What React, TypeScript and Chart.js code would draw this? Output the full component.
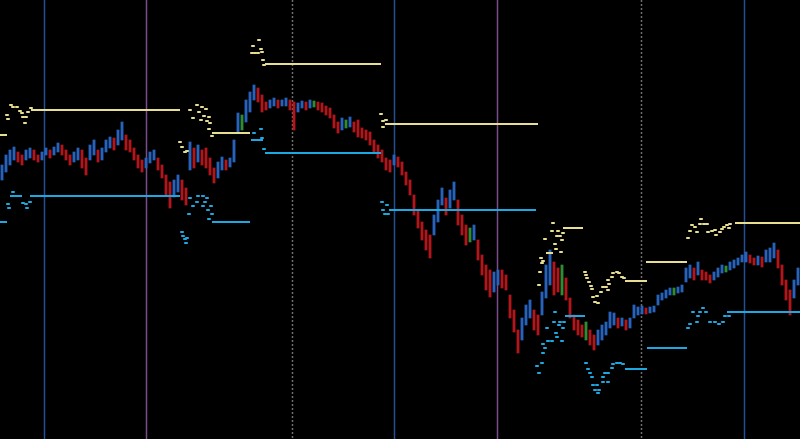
import { useEffect, useRef } from 'react';
import { Chart, registerables } from 'chart.js';

Chart.register(...registerables);

// Bar highs / lows (price levels), one bar per slot
const highs = [
  274, 284, 289, 292, 287, 284, 289, 291, 289, 284, 287, 291, 289, 292, 296, 294, 289, 284, 287, 291,
  289, 281, 294, 299, 289, 291, 299, 302, 301, 309, 317, 304, 299, 291, 284, 279, 281, 287, 289, 281,
  274, 264, 257, 259, 264, 259, 251, 297, 291, 294, 289, 291, 281, 271, 277, 282, 279, 281, 299, 326,
  324, 339, 347, 354, 351, 344, 337, 339, 341, 339, 339, 341, 339, 337, 336, 338, 337, 339, 338, 337,
  336, 333, 331, 324, 317, 321, 319, 322, 317, 319, 311, 309, 307, 299, 294, 289, 281, 279, 284, 282,
  277, 267, 259, 244, 229, 217, 209, 204, 224, 239, 251, 241, 249, 257, 239, 224, 214, 211, 214, 199,
  184, 174, 169, 167, 169, 169, 164, 144, 129, 109, 121, 134, 139, 129, 124, 147, 174, 189, 177, 171,
  174, 161, 141, 124, 119, 114, 117, 109, 104, 109, 114, 117, 127, 126, 121, 121, 119, 121, 134, 132,
  133, 131, 132, 133, 144, 146, 149, 151, 151, 152, 154, 171, 174, 171, 177, 169, 167, 164, 167, 171,
  174, 173, 177, 179, 181, 184, 187, 184, 181, 183, 182, 189, 191, 196, 189, 174, 159, 149, 159, 171,
];
const lows = [
  259, 267, 274, 279, 277, 274, 279, 281, 279, 277, 279, 284, 281, 284, 287, 284, 279, 274, 277, 279,
  271, 264, 279, 284, 277, 279, 287, 291, 289, 294, 299, 289, 287, 279, 271, 267, 271, 276, 279, 269,
  261, 244, 231, 242, 247, 239, 234, 269, 271, 277, 274, 271, 264, 256, 261, 269, 269, 272, 277, 307,
  309, 317, 327, 339, 337, 327, 329, 331, 333, 331, 333, 333, 329, 309, 327, 331, 329, 331, 332, 329,
  327, 324, 321, 311, 306, 309, 311, 312, 307, 302, 301, 299, 294, 287, 281, 277, 269, 267, 274, 272,
  264, 254, 244, 224, 211, 199, 189, 181, 204, 217, 234, 224, 231, 239, 214, 204, 194, 197, 199, 179,
  164, 149, 142, 147, 154, 151, 149, 121, 107, 86, 99, 114, 121, 109, 104, 124, 141, 154, 144, 147,
  144, 139, 121, 109, 104, 102, 99, 94, 89, 94, 99, 104, 111, 114, 111, 113, 109, 111, 121, 124,
  125, 125, 126, 127, 134, 139, 141, 144, 144, 146, 147, 157, 161, 159, 164, 159, 159, 156, 159, 162,
  166, 167, 169, 171, 174, 177, 177, 176, 174, 174, 172, 177, 177, 181, 171, 154, 139, 124, 141, 154,
];

// Session separators (slot positions)
const weekBreaks = [11, 98.5, 186];
const dayBreaks = [36.6, 124.25];
const midBreaks = [72.9, 160.25];

// Upper / lower reference levels: level, start slot, end slot
const upperLevels = [304, 329, 306, 375, 315, 186, 211, 158, 177, 216];
const upperStart = [0, 7.75, 53, 66.25, 96.25, 136.5, 140.75, 156.25, 161.5, 183.75];
const upperEnd = [1.75, 45, 62.5, 95.25, 134.5, 138.25, 145.75, 161.75, 171.75, 200];

const lowerLevels = [217, 243, 243, 217, 299, 286, 229, 123, 70, 91, 127];
const lowerStart = [0, 2.5, 7.5, 53, 62.75, 66.25, 97.25, 141.25, 156.25, 161.75, 181.75];
const lowerEnd = [1.75, 5.5, 45, 62.5, 65.75, 95.25, 134, 146.25, 161.75, 171.75, 200];

// Pivot markers [slot, level]
const upperPivots: [number, number][] = [
  [1.75, 324], [2, 320], [2.75, 334], [3.25, 332], [4.25, 332], [5, 328], [5.5, 326], [5.75, 322],
  [6.5, 322], [6.25, 316], [7, 327], [7.75, 331],
  [47.5, 329], [49.25, 334], [50.5, 332], [51.5, 330], [49.75, 327], [48.25, 321], [51, 323],
  [52.25, 322], [51.75, 318], [50.25, 319], [52.5, 316], [52.25, 310], [53, 303], [45, 297],
  [45.5, 292], [46.25, 287], [46.75, 288],
  [64.75, 399], [63.25, 393], [65.25, 390], [63, 386], [63.75, 386], [64.5, 386], [65.5, 387],
  [65.75, 379], [66, 374],
  [95.25, 325], [95.75, 318], [96.5, 319], [95.75, 312],
  [138.25, 216], [138, 208], [139.5, 208], [140.75, 206], [139.25, 203], [140, 203], [140.5, 199],
  [136.25, 200], [138.75, 195], [139, 190], [140.25, 187], [135.25, 181], [135.75, 178],
  [135.5, 176], [135, 167], [134.75, 154],
  [146.25, 167], [146.5, 164], [146.75, 161], [147.25, 157], [147.75, 153], [148, 150], [148.25, 142],
  [149.25, 143], [148.75, 137], [149.5, 136], [150.25, 147], [150.75, 152], [151.5, 152], [152, 149],
  [152.25, 155], [152, 159], [153, 162], [153.25, 166], [154.25, 167], [154.75, 166], [155.5, 162],
  [156, 161],
  [172, 201], [172.5, 208], [173, 214], [173.75, 212], [174.25, 207], [175, 215], [175.25, 220],
  [176, 215], [176.75, 215], [177, 207], [178, 208], [178.75, 209], [179, 204], [180, 207],
  [180.5, 210], [181, 212], [181.75, 214], [182.25, 211], [182.5, 215],
];
const lowerPivots: [number, number][] = [
  [3.25, 247], [2, 235], [2.25, 231], [5.75, 236], [6.5, 235], [7.5, 237], [6.75, 231],
  [47.5, 241], [49.5, 243], [50.75, 243], [51.75, 241], [49.25, 237], [51.25, 237], [48.25, 233],
  [50.75, 233], [52.75, 233], [52, 229], [53, 225], [52.25, 220], [47.25, 225], [45.5, 207],
  [45.75, 203], [46.25, 200], [46.75, 201], [46.5, 196],
  [63.5, 306], [65.25, 310], [65.5, 301], [66, 290],
  [95.5, 237], [96.75, 234], [95.75, 229], [96.25, 225], [97, 225],
  [138.75, 127], [138.5, 117], [140, 117], [141, 117], [139.75, 114], [136.75, 111], [140.75, 111],
  [139, 106], [139.25, 102], [140.5, 98], [137, 98], [138, 98], [135.75, 95], [136.25, 91],
  [135.75, 86], [135.5, 76], [134.25, 73], [134.75, 66],
  [146.5, 76], [147, 70], [147.5, 66], [148, 62], [148.25, 54], [149.25, 54], [148.75, 49],
  [149.75, 49], [149.5, 46], [150.75, 62], [151.25, 66], [152, 66], [150.75, 57], [152, 57],
  [153, 71], [153.25, 75], [154.25, 76], [155, 76], [155.75, 75],
  [175.75, 131], [173.25, 127], [175, 127], [176.5, 127], [174.5, 123], [172, 111], [172.5, 115],
  [174.25, 117], [177.5, 117], [178.75, 117], [179.75, 115], [180.75, 117], [181.25, 123],
  [182.25, 123],
];

const UP = '#2763bd';
const DOWN = '#b3161a';
const FLAT = '#2f8c33';
const UPPER = '#e8de90';
const LOWER = '#1ca9e2';

function levelSegments(levels: number[], starts: number[], ends: number[]) {
  const pts: { x: number; y: number | null }[] = [];
  levels.forEach((lv, i) => {
    pts.push({ x: starts[i], y: lv }, { x: ends[i], y: lv }, { x: ends[i], y: null });
  });
  return pts;
}

const separators = {
  id: 'separators',
  beforeDraw(chart: Chart) {
    const { ctx, width, height } = chart;
    ctx.save();
    ctx.fillStyle = '#000';
    ctx.fillRect(0, 0, width, height);
    ctx.restore();
  },
  beforeDatasetsDraw(chart: Chart) {
    const { ctx, chartArea } = chart;
    const xs = chart.scales.x;
    const draw = (vals: number[], color: string, dash: number[]) => {
      ctx.save();
      ctx.strokeStyle = color;
      ctx.lineWidth = 1.5;
      ctx.setLineDash(dash);
      vals.forEach((v) => {
        const px = Math.round(xs.getPixelForValue(v)) + 0.5;
        ctx.beginPath();
        ctx.moveTo(px, chartArea.top);
        ctx.lineTo(px, chartArea.bottom);
        ctx.stroke();
      });
      ctx.restore();
    };
    draw(weekBreaks, '#234f93', []);
    draw(dayBreaks, '#7a4c8c', []);
    draw(midBreaks, '#6e6e6e', [2, 2]);
  },
};

export default function App() {
  const ref = useRef<HTMLCanvasElement>(null);

  useEffect(() => {
    document.body.style.margin = '0';
    document.body.style.background = '#000';
    const canvas = ref.current;
    if (!canvas) return;

    const mids = highs.map((h, i) => (h + lows[i]) / 2);
    const barColors = mids.map((m, i) => {
      if (i === 0) return UP;
      const d = m - mids[i - 1];
      if (d > 0) return UP;
      if (d < 0) return DOWN;
      return FLAT;
    });

    const chart = new Chart(canvas, {
      type: 'bar',
      data: {
        datasets: [
          {
            type: 'scatter',
            data: upperPivots.map(([x, y]) => ({ x, y })),
            pointStyle: 'line',
            pointRadius: 1.8,
            pointBorderWidth: 2,
            pointBorderColor: UPPER,
            borderColor: UPPER,
            order: 1,
          } as any,
          {
            type: 'scatter',
            data: lowerPivots.map(([x, y]) => ({ x, y })),
            pointStyle: 'line',
            pointRadius: 1.8,
            pointBorderWidth: 2,
            pointBorderColor: LOWER,
            borderColor: LOWER,
            order: 1,
          } as any,
          {
            type: 'line',
            data: levelSegments(upperLevels, upperStart, upperEnd),
            borderColor: UPPER,
            borderWidth: 2,
            pointRadius: 0,
            spanGaps: false,
            order: 2,
          } as any,
          {
            type: 'line',
            data: levelSegments(lowerLevels, lowerStart, lowerEnd),
            borderColor: LOWER,
            borderWidth: 2,
            pointRadius: 0,
            spanGaps: false,
            order: 2,
          } as any,
          {
            type: 'bar',
            data: highs.map((h, i) => ({ x: i + 0.5, y: [lows[i], h] })),
            backgroundColor: barColors,
            borderWidth: 0,
            barThickness: 2.2,
            grouped: false,
            order: 3,
          } as any,
        ],
      },
      options: {
        animation: false,
        responsive: false,
        events: [],
        layout: { padding: 0, autoPadding: false },
        plugins: { legend: { display: false }, tooltip: { enabled: false } },
        scales: {
          x: { type: 'linear', min: 0, max: 200, offset: false, display: false },
          y: { type: 'linear', min: 0, max: 439, display: false },
        },
      },
      plugins: [separators],
    });

    return () => chart.destroy();
  }, []);

  return (
    <div style={{ width: 800, height: 439, background: '#000' }}>
      <canvas ref={ref} width={800} height={439} style={{ display: 'block' }} />
    </div>
  );
}
